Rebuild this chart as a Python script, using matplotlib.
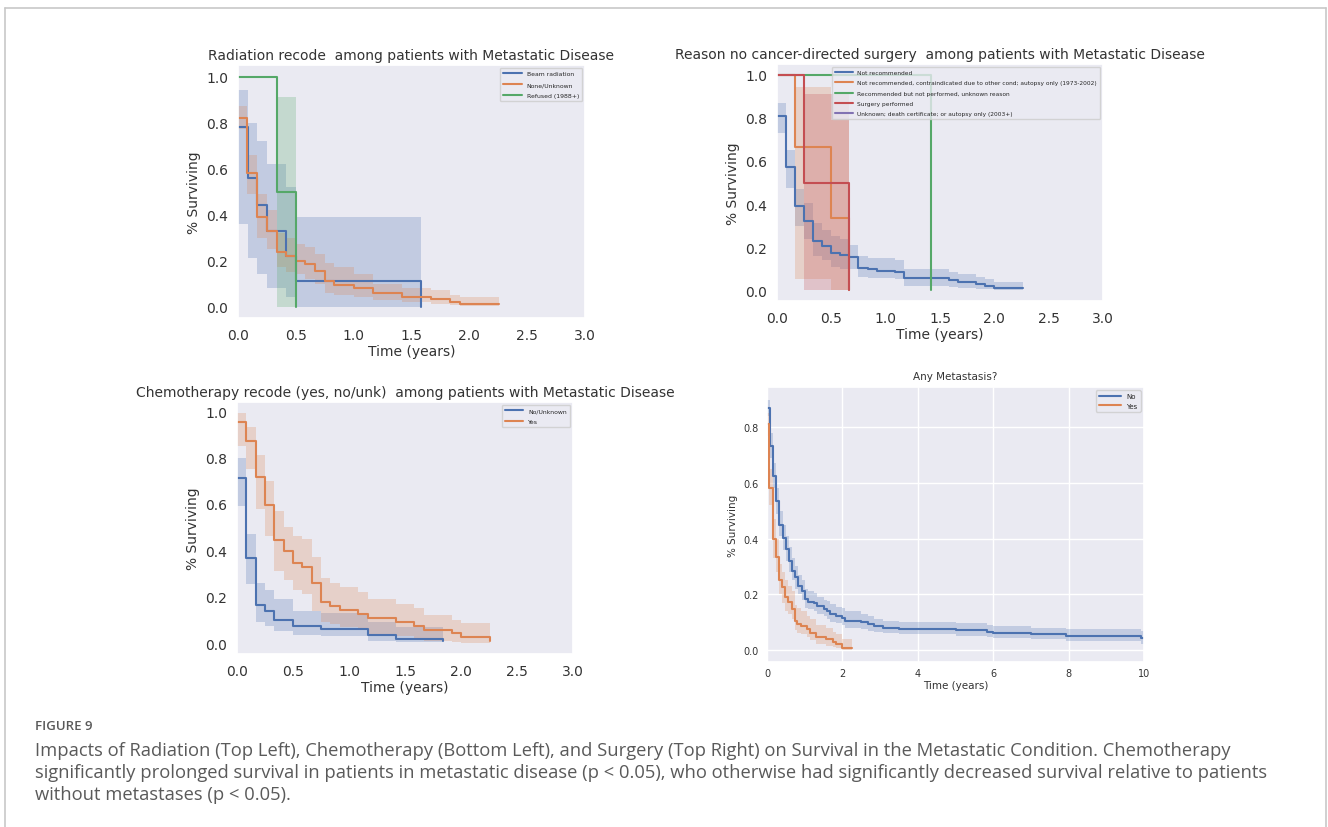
import matplotlib
matplotlib.use("Agg")
import matplotlib.pyplot as plt
from matplotlib.lines import Line2D
import seaborn as sns
import numpy as np

sns.set_theme(style="dark")
plt.rcParams['font.family'] = ['DejaVu Sans']

BLUE, ORANGE, GREEN, RED, PURPLE = sns.color_palette("deep")[:5]

# ---- Radiation recode (top left) ----
rad_beam_t = [0, 0.083, 0.167, 0.25, 0.417, 0.5, 1.583]
rad_beam_s = [0.78, 0.56, 0.44, 0.33, 0.22, 0.11, 0.0]
rad_beam_hi = [0.94, 0.80, 0.72, 0.62, 0.52, 0.39, 0.39]
rad_beam_lo = [0.36, 0.21, 0.14, 0.08, 0.04, 0.0, 0.0]

rad_none_t = [0, 0.075, 0.167, 0.25, 0.333, 0.417, 0.5, 0.583, 0.667, 0.75,
              0.833, 1.0, 1.167, 1.417, 1.667, 1.833, 1.917, 2.0, 2.26]
rad_none_s = [0.82, 0.58, 0.39, 0.33, 0.235, 0.22, 0.20, 0.185, 0.155, 0.11,
              0.095, 0.08, 0.058, 0.043, 0.033, 0.02, 0.012, 0.009, 0.009]
rad_none_hi = [0.87, 0.66, 0.49, 0.42, 0.32, 0.30, 0.27, 0.26, 0.23, 0.19,
               0.17, 0.14, 0.10, 0.08, 0.07, 0.05, 0.04, 0.04, 0.04]
rad_none_lo = [0.77, 0.49, 0.30, 0.25, 0.17, 0.15, 0.14, 0.12, 0.10, 0.06,
               0.05, 0.04, 0.03, 0.02, 0.01, 0.005, 0.003, 0.002, 0.002]

rad_ref_t = [0, 0.333, 0.5]
rad_ref_s = [1.0, 0.5, 0.0]
rad_ref_hi = [1.0, 0.91, 0.91]
rad_ref_lo = [1.0, 0.0, 0.0]

# ---- Reason no surgery (top right) ----
srg_notrec_t = [0, 0.083, 0.167, 0.25, 0.333, 0.417, 0.5, 0.583, 0.667, 0.75,
                0.833, 0.917, 1.083, 1.167, 1.583, 1.667, 1.833, 1.917, 2.0, 2.26]
srg_notrec_s = [0.81, 0.57, 0.39, 0.32, 0.23, 0.205, 0.175, 0.165, 0.155, 0.105,
                0.098, 0.09, 0.083, 0.057, 0.046, 0.037, 0.029, 0.02, 0.011, 0.011]
srg_notrec_hi = [0.87, 0.65, 0.47, 0.405, 0.31, 0.28, 0.25, 0.24, 0.21, 0.16,
                 0.15, 0.15, 0.14, 0.10, 0.085, 0.075, 0.06, 0.05, 0.04, 0.04]
srg_notrec_lo = [0.73, 0.475, 0.30, 0.24, 0.16, 0.14, 0.11, 0.10, 0.10, 0.06,
                 0.055, 0.055, 0.05, 0.02, 0.015, 0.01, 0.005, 0.004, 0.002, 0.002]

srg_contra_t = [0, 0.167, 0.5, 0.667]
srg_contra_s = [1.0, 0.667, 0.333, 0.0]
srg_contra_hi = [1.0, 0.945, 0.79, 0.79]
srg_contra_lo = [1.0, 0.054, 0.0, 0.0]

srg_recnot_t = [0, 1.417]
srg_recnot_s = [1.0, 0.0]

srg_done_t = [0, 0.25, 0.667]
srg_done_s = [1.0, 0.5, 0.0]
srg_done_hi = [1.0, 0.91, 0.91]
srg_done_lo = [1.0, 0.0, 0.0]

srg_unk_t = [0]
srg_unk_s = [1.0]

# ---- Chemotherapy (bottom left) ----
chemo_no_t = [0, 0.083, 0.167, 0.25, 0.333, 0.5, 0.75, 1.167, 1.417, 1.84]
chemo_no_s = [0.71, 0.365, 0.165, 0.14, 0.10, 0.073, 0.062, 0.035, 0.018, 0.008]
chemo_no_hi = [0.80, 0.47, 0.26, 0.23, 0.19, 0.14, 0.13, 0.09, 0.07, 0.07]
chemo_no_lo = [0.59, 0.255, 0.09, 0.075, 0.05, 0.035, 0.03, 0.01, 0.005, 0.005]

chemo_yes_t = [0, 0.083, 0.167, 0.25, 0.333, 0.417, 0.5, 0.583, 0.667, 0.75,
               0.833, 0.917, 1.083, 1.167, 1.417, 1.583, 1.667, 1.917, 2.0, 2.255]
chemo_yes_s = [0.955, 0.87, 0.715, 0.595, 0.444, 0.395, 0.344, 0.328, 0.26, 0.178,
               0.159, 0.142, 0.123, 0.108, 0.09, 0.075, 0.058, 0.042, 0.026, 0.008]
chemo_yes_hi = [0.99, 0.93, 0.81, 0.70, 0.57, 0.50, 0.46, 0.45, 0.37, 0.28,
                0.26, 0.24, 0.22, 0.19, 0.17, 0.15, 0.12, 0.10, 0.085, 0.085]
chemo_yes_lo = [0.85, 0.75, 0.58, 0.46, 0.31, 0.27, 0.23, 0.21, 0.14, 0.09,
                0.08, 0.07, 0.06, 0.04, 0.03, 0.02, 0.01, 0.005, 0.002, 0.002]

# ---- Any metastasis (bottom right) ----
met_no_t = [0, 0.08, 0.17, 0.25, 0.33, 0.42, 0.5, 0.58, 0.67, 0.75, 0.83, 0.92,
            1.0, 1.08, 1.25, 1.33, 1.5, 1.58, 1.67, 1.83, 2.0, 2.08, 2.5, 2.67,
            2.83, 3.08, 3.5, 5.0, 5.83, 6.0, 7.0, 7.92, 9.92, 10.0]
met_no_s = [0.87, 0.734, 0.624, 0.535, 0.45, 0.403, 0.361, 0.319, 0.283, 0.26,
            0.23, 0.212, 0.182, 0.173, 0.168, 0.158, 0.146, 0.14, 0.128, 0.122,
            0.116, 0.104, 0.10, 0.092, 0.086, 0.08, 0.074, 0.071, 0.065, 0.06,
            0.055, 0.049, 0.042, 0.042]
met_no_hi = [0.90, 0.78, 0.67, 0.58, 0.50, 0.45, 0.41, 0.37, 0.33, 0.30, 0.27,
             0.25, 0.22, 0.21, 0.205, 0.19, 0.18, 0.175, 0.165, 0.155, 0.15, 0.14,
             0.13, 0.12, 0.11, 0.105, 0.10, 0.097, 0.09, 0.085, 0.08, 0.075, 0.068,
             0.068]
met_no_lo = [0.84, 0.69, 0.58, 0.49, 0.41, 0.36, 0.32, 0.28, 0.25, 0.22, 0.20,
             0.18, 0.15, 0.145, 0.14, 0.13, 0.12, 0.11, 0.10, 0.095, 0.09, 0.08,
             0.075, 0.068, 0.064, 0.06, 0.055, 0.05, 0.045, 0.042, 0.038, 0.032,
             0.022, 0.022]

met_yes_t = [0, 0.053, 0.16, 0.23, 0.31, 0.40, 0.48, 0.56, 0.65, 0.73, 0.80,
             0.89, 1.06, 1.13, 1.31, 1.57, 1.75, 1.84, 2.0, 2.26]
met_yes_s = [0.812, 0.58, 0.397, 0.334, 0.25, 0.224, 0.188, 0.173, 0.148, 0.104,
             0.094, 0.086, 0.074, 0.062, 0.047, 0.038, 0.029, 0.02, 0.008, 0.008]
met_yes_hi = [0.85, 0.65, 0.47, 0.40, 0.31, 0.28, 0.25, 0.23, 0.21, 0.16, 0.15,
              0.14, 0.12, 0.11, 0.09, 0.08, 0.065, 0.055, 0.04, 0.04]
met_yes_lo = [0.77, 0.52, 0.33, 0.28, 0.20, 0.17, 0.14, 0.13, 0.11, 0.07, 0.06,
              0.055, 0.045, 0.035, 0.02, 0.015, 0.01, 0.005, 0.001, 0.001]

caption_head = "FIGURE 9"
caption_lines = [
    "Impacts of Radiation (Top Left), Chemotherapy (Bottom Left), and Surgery (Top Right) on Survival in the Metastatic Condition. Chemotherapy",
    "significantly prolonged survival in patients in metastatic disease (p < 0.05), who otherwise had significantly decreased survival relative to patients",
    "without metastases (p < 0.05).",
]

W, H = 1328, 828
TXT = "#333333"
fig = plt.figure(figsize=(W / 100, H / 100), dpi=100)
fig.patch.set_facecolor("white")


def px_axes(x0, y0, x1, y1):
    return fig.add_axes([x0 / W, 1 - y1 / H, (x1 - x0) / W, (y1 - y0) / H])


def km(ax, t, s, color, label, lo=None, hi=None):
    ax.step(t, s, where="post", color=color, lw=1.5, label=label)
    if lo is not None:
        ax.fill_between(t, lo, hi, step="post", color=color, alpha=0.25, lw=0)


def style(ax, title, lfs, fs=10):
    ax.set_facecolor("#EAEAF2")
    ax.set_title(title, fontsize=fs, color=TXT, pad=4)
    ax.set_xlabel("Time (years)", fontsize=fs, color=TXT, labelpad=2)
    ax.set_ylabel("% Surviving", fontsize=fs, color=TXT, labelpad=4)
    ax.tick_params(labelsize=fs, colors=TXT, length=0)
    ax.tick_params(axis="x", pad=7)
    ax.tick_params(axis="y", pad=7)
    ax.set_xlim(0, 3)
    ax.set_xticks(np.arange(0, 3.01, 0.5))
    ax.set_yticks(np.arange(0, 1.01, 0.2))
    ax.margins(y=0.05)
    ax.legend(loc="upper right", fontsize=lfs, handlelength=3.0,
              labelspacing=0.9, framealpha=0.8, borderpad=0.5)


# top left
ax1 = px_axes(238, 66, 585, 319)
km(ax1, rad_beam_t, rad_beam_s, BLUE, "Beam radiation", rad_beam_lo, rad_beam_hi)
km(ax1, rad_none_t, rad_none_s, ORANGE, "None/Unknown", rad_none_lo, rad_none_hi)
km(ax1, rad_ref_t, rad_ref_s, GREEN, "Refused (1988+)", rad_ref_lo, rad_ref_hi)
style(ax1, "Radiation recode  among patients with Metastatic Disease", 4.4)

# top right
ax2 = px_axes(777, 65, 1103, 302)
km(ax2, srg_notrec_t, srg_notrec_s, BLUE, "Not recommended", srg_notrec_lo, srg_notrec_hi)
km(ax2, srg_contra_t, srg_contra_s, ORANGE,
   "Not recommended, contraindicated due to other cond; autopsy only (1973-2002)",
   srg_contra_lo, srg_contra_hi)
km(ax2, srg_recnot_t, srg_recnot_s, GREEN, "Recommended but not performed, unknown reason")
km(ax2, srg_done_t, srg_done_s, RED, "Surgery performed", srg_done_lo, srg_done_hi)
km(ax2, srg_unk_t, srg_unk_s, PURPLE, "Unknown; death certificate; or autopsy only (2003+)")
style(ax2, "Reason no cancer-directed surgery  among patients with Metastatic Disease", 4.2)

# bottom left
ax3 = px_axes(237, 403, 573, 655)
km(ax3, chemo_no_t, chemo_no_s, BLUE, "No/Unknown", chemo_no_lo, chemo_no_hi)
km(ax3, chemo_yes_t, chemo_yes_s, ORANGE, "Yes", chemo_yes_lo, chemo_yes_hi)
style(ax3, "Chemotherapy recode (yes, no/unk)  among patients with Metastatic Disease", 4.4)

# bottom right
ax4 = px_axes(767, 388, 1144, 663)
km(ax4, met_no_t, met_no_s, BLUE, "No", met_no_lo, met_no_hi)
km(ax4, met_yes_t, met_yes_s, ORANGE, "Yes", met_yes_lo, met_yes_hi)
ax4.set_facecolor("#EAEAF2")
ax4.grid(True, color="white", lw=1)
ax4.set_xlim(0, 10)
ax4.set_xticks(range(0, 11, 2))
ax4.set_yticks(np.arange(0, 0.81, 0.2))
ax4.set_title("Any Metastasis?", fontsize=7.5, color=TXT, pad=6)
ax4.set_xlabel("Time (years)", fontsize=7.5, color=TXT, labelpad=2)
ax4.set_ylabel("% Surviving", fontsize=7.5, color=TXT, labelpad=4)
ax4.tick_params(labelsize=7, colors=TXT, length=0, pad=6)
ax4.tick_params(axis="x", pad=4)
ax4.legend(loc="upper right", fontsize=5, handlelength=3.2, framealpha=0.8)

# caption
fig.text(35 / W, 1 - 727 / H, caption_head, fontsize=9.5, color="#5a5a5a",
         family="Open Sans", fontweight="semibold", va="center")
for i, line in enumerate(caption_lines):
    fig.text(35 / W, 1 - (751 + 22 * i) / H, line, fontsize=13.2, color="#5a5a5a",
             family="Open Sans", va="center")

# page frame
frame = dict(color="#c8c8c8", lw=1.2, transform=fig.transFigure)
fig.add_artist(Line2D([4.5 / W, 4.5 / W], [0, 1 - 9 / H], **frame))
fig.add_artist(Line2D([1325.5 / W, 1325.5 / W], [0, 1 - 9 / H], **frame))
fig.add_artist(Line2D([4.5 / W, 1325.5 / W], [1 - 9 / H, 1 - 9 / H], **frame))

fig.savefig("out.png", dpi=100, facecolor="white")
